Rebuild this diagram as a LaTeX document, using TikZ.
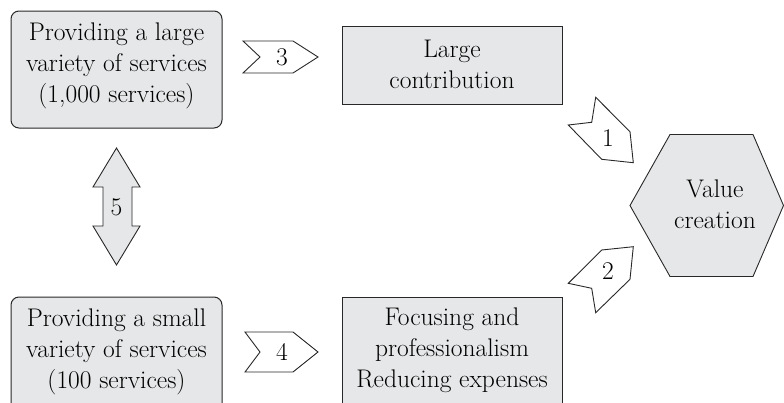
\documentclass[tikz,border=0pt]{standalone}
\usepackage{fontspec}
\definecolor{boxgray}{RGB}{230,231,232}
\definecolor{edgegray}{RGB}{40,40,40}
\begin{document}
\begin{tikzpicture}[x=1pt,y=-1pt,
  box/.style={draw=edgegray, line width=1pt, fill=boxgray, inner sep=0pt, outer sep=0pt},
  outline/.style={draw=edgegray, line width=0.9pt, line join=miter},
  txt/.style={align=center, inner sep=0pt, font=\fontsize{25.5}{31}\selectfont},
  num/.style={inner sep=0pt, font=\fontsize{25.5}{28}\selectfont}]
\useasboundingbox (0,0) rectangle (784,402);
\clip (0,0) rectangle (784,402);

% the four boxes
\node[box, rounded corners=8pt, minimum width=211pt, minimum height=117pt] (wide) at (116.5,69.5) {};
\node[box, minimum width=220pt, minimum height=78pt] (contrib) at (452,65) {};
\node[box, rounded corners=8pt, minimum width=211pt, minimum height=140pt] (narrow) at (116.5,367) {};
\node[box, minimum width=220pt, minimum height=140pt] (focus) at (452,367) {};

\node[txt] (widetxt) at (116.5,66) {Providing a large\\variety of services\\(1,000 services)};
\node[txt] (contribtxt) at (452,64) {Large\\contribution};
\node[txt] (narrowtxt) at (116.5,352) {Providing a small\\variety of services\\(100 services)};
\node[txt] (focustxt) at (452,350) {Focusing and\\professionalism\\Reducing expenses};

% hexagon
\filldraw[outline, fill=boxgray] (630,205.5) -- (670,134.5) -- (753,134.5) -- (783.5,205.5)
  -- (753,276.5) -- (670,276.5) -- cycle;
\node[txt] (value) at (715,204) {Value\\creation};

% chevrons 3 and 4
\draw[outline, fill=white] (243,41) -- (293,41) -- (318,57) -- (293,73) -- (243,73) -- (260,57) -- cycle;
\node[num] (n3) at (282,57) {3};
\draw[outline, fill=white] (245,332) -- (293,332) -- (318,352) -- (293,372) -- (245,372) -- (260,352) -- cycle;
\node[num] (n4) at (282,352) {4};

% pointers 1 and 2
\draw[outline, fill=white] (568.3,125) -- (591.7,122.3) -- (595.7,97.3) -- (630,131.7)
  -- (633.3,162.7) -- (601.7,159.3) -- cycle;
\node[num] (n1) at (608,138) {1};
\draw[outline, fill=white] (568.3,283.3) -- (591.7,288.3) -- (595.7,312.7) -- (630,279.3)
  -- (633.3,246.7) -- (601.7,250) -- cycle;
\node[num] (n2) at (608,271) {2};

% double arrow 5
\filldraw[outline, fill=boxgray] (116.5,148) -- (140,187) -- (132,187) -- (132,226) -- (140,226)
  -- (116.5,265) -- (93,226) -- (103,226) -- (103,187) -- (93,187) -- cycle;
\node[num] (n5) at (116.5,207) {5};
\end{tikzpicture}
\end{document}
